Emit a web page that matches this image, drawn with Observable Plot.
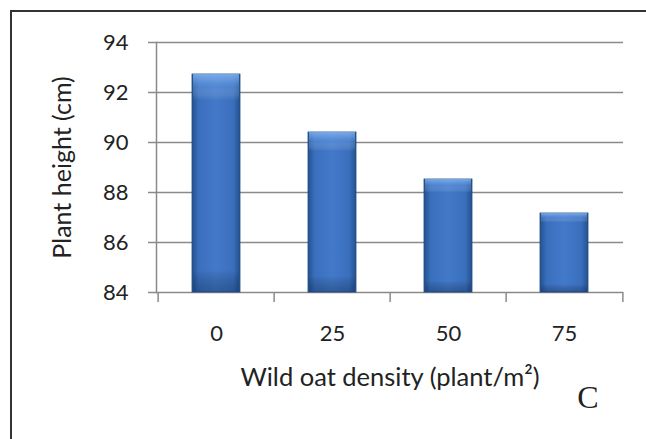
<!DOCTYPE html>
<html><head><meta charset="utf-8">
<script src="https://cdn.jsdelivr.net/npm/d3@7"></script>
<script src="https://cdn.jsdelivr.net/npm/@observablehq/plot@0.6"></script>
<style>
body{margin:0;background:#fff}
#wrap{position:relative;width:646px;height:439px;overflow:hidden;background:#fff}
#border{position:absolute;left:10px;top:10px;width:700px;height:500px;border:2px solid #333;box-sizing:border-box;pointer-events:none}
#wrap svg{position:absolute;left:0;top:0}
</style>
</head><body><div id="wrap"><div id="border"></div></div>
<script>
const densities = ["0", "25", "50", "75"];
const heights = [92.72, 90.4, 88.52, 87.16];
const yTicks = [84, 86, 88, 90, 92, 94];
const xTitle = "Wild oat density (plant/m²)";
const yTitle = "Plant height (cm)";
const panelLetter = "C";

const data = densities.map((d, i) => ({density: d, height: heights[i]}));
const W = 646, H = 439, mL = 156, mR = 23, mT = 42, mB = 147;
const step = (W - mL - mR) / densities.length;
const gridColor = "#8a8a8a";
const textColor = "#222";

const svg = Plot.plot({
  width: W, height: H,
  marginLeft: mL, marginRight: mR, marginTop: mT, marginBottom: mB,
  style: {fontFamily: "Lato", color: textColor, background: "transparent", overflow: "visible"},
  x: {domain: densities, paddingInner: 0.59, paddingOuter: 0.295},
  y: {domain: [84, 94]},
  marks: [
    Plot.gridY(yTicks, {stroke: gridColor, strokeOpacity: 1, strokeWidth: 1.5}),
    Plot.axisY(yTicks, {tickSize: 8, tickPadding: 20, stroke: gridColor, strokeWidth: 1.5, fontSize: 22, label: null, tickFormat: d => String(d)}),
    Plot.frame({anchor: "left", stroke: gridColor, strokeWidth: 1.5}),
    Plot.axisX({tickSize: 0, tickPadding: 33, fontSize: 22, label: null}),
    Plot.ruleX(densities, {x: d => d, dx: -step / 2, y1: 84, y2: 83.6, stroke: gridColor, strokeWidth: 1.5}),
    Plot.ruleX(densities.slice(-1), {x: d => d, dx: step / 2, y1: 84, y2: 83.6, stroke: gridColor, strokeWidth: 1.5}),
    Plot.barY(data, {x: "density", y1: 84, y2: "height", fill: "url(#barH)", stroke: "#22497f", strokeWidth: 0.8}),
    Plot.barY(data, {x: "density", y1: 84, y2: "height", fill: "url(#barV)", insetLeft: 1, insetRight: 1}),
    Plot.text([yTitle], {frameAnchor: "left", dx: -94, rotate: -90, textAnchor: "middle", fontSize: 25, fill: textColor}),
    Plot.text([xTitle], {frameAnchor: "bottom", dy: 93, fontSize: 25.5, fill: textColor}),
    Plot.text([panelLetter], {frameAnchor: "bottom-right", dx: -25, dy: 115, fontSize: 32, fontFamily: "Liberation Serif", fill: textColor})
  ]
});

const ns = "http://www.w3.org/2000/svg";
const defs = document.createElementNS(ns, "defs");
defs.innerHTML = `
<linearGradient id="barH" x1="0" y1="0" x2="1" y2="0">
  <stop offset="0" stop-color="#24528f"/>
  <stop offset="0.14" stop-color="#3a6fbd"/>
  <stop offset="0.5" stop-color="#4279c8"/>
  <stop offset="0.86" stop-color="#3a6fbd"/>
  <stop offset="1" stop-color="#24528f"/>
</linearGradient>
<linearGradient id="barV" x1="0" y1="0" x2="0" y2="1">
  <stop offset="0" stop-color="#8fbdf5" stop-opacity="0.75"/>
  <stop offset="0.06" stop-color="#6fa3ea" stop-opacity="0.35"/>
  <stop offset="0.12" stop-color="#ffffff" stop-opacity="0"/>
  <stop offset="0.9" stop-color="#000000" stop-opacity="0"/>
  <stop offset="1" stop-color="#0b2850" stop-opacity="0.35"/>
</linearGradient>`;
svg.insertBefore(defs, svg.firstChild);
document.getElementById("wrap").appendChild(svg);
</script>
</body></html>
